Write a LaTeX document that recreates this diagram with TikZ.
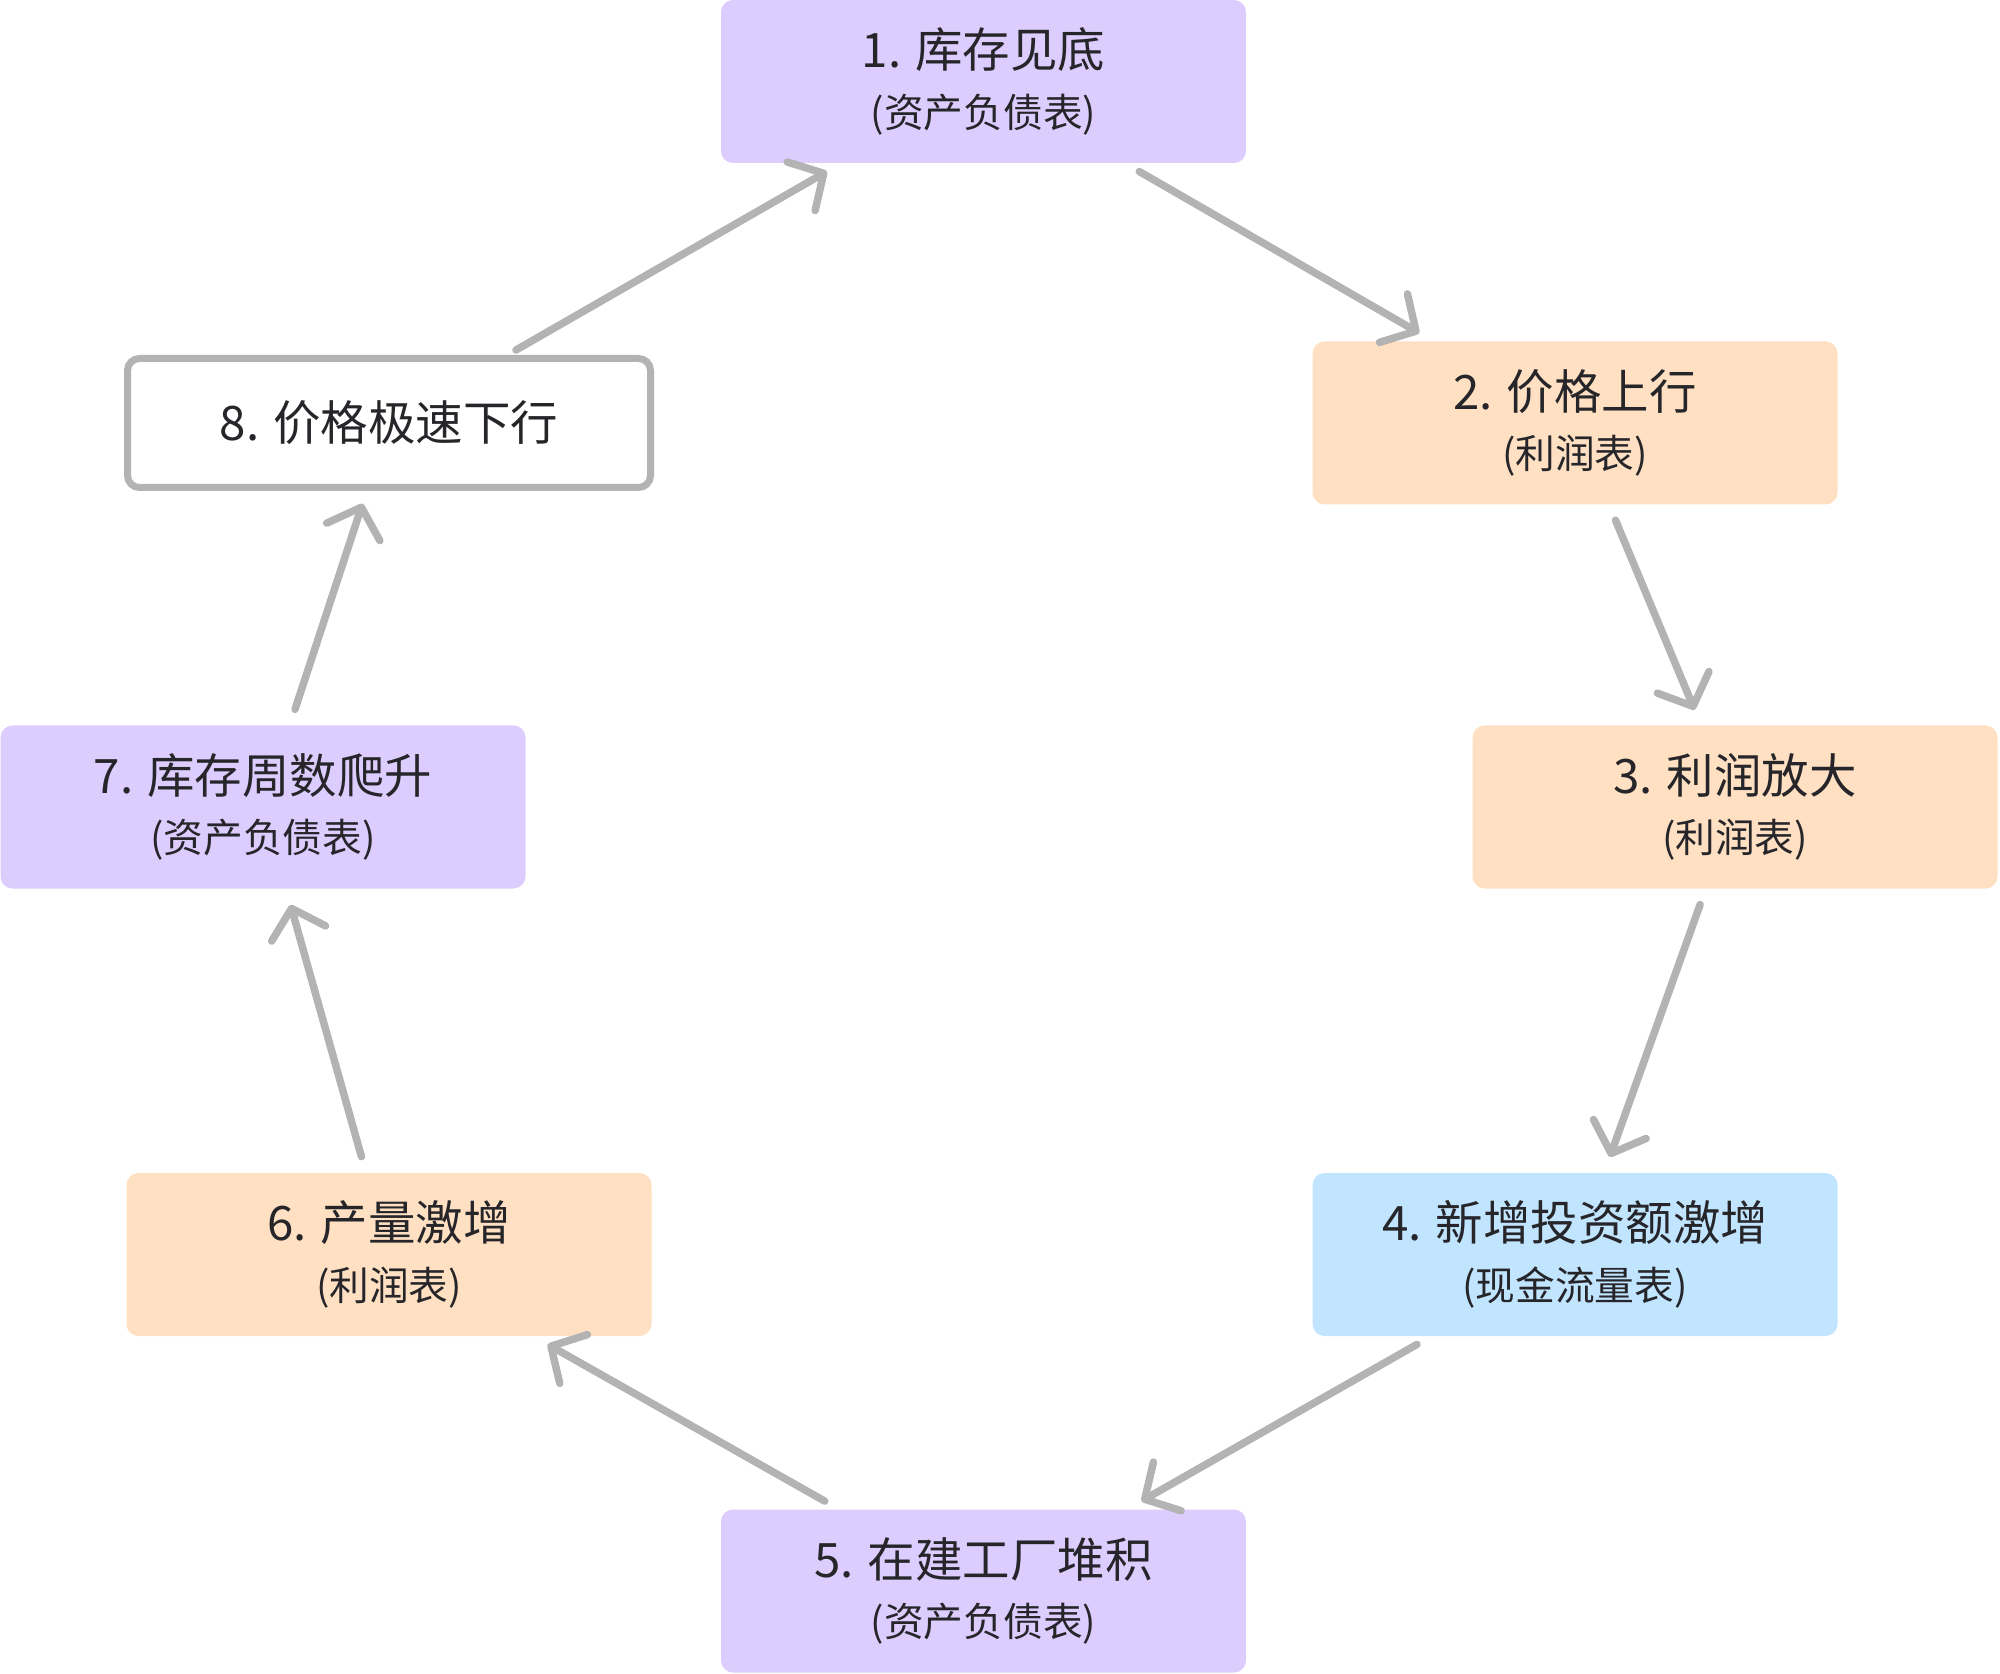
\documentclass[tikz,border=0pt]{standalone}
\usepackage{fontspec}
\setmainfont{Noto Sans CJK SC}
\usetikzlibrary{arrows.meta}
\definecolor{boxpurple}{HTML}{DDCDFF}
\definecolor{boxorange}{HTML}{FFE0C2}
\definecolor{boxblue}{HTML}{C2E5FF}
\definecolor{arrowgray}{HTML}{B3B3B3}
\definecolor{textdark}{HTML}{26262A}
\newcommand{\sheetname}[1]{{\fontsize{11.3}{14}\selectfont #1}}

\begin{document}
\begin{tikzpicture}[
  stage/.style={rounded corners=0.12cm, minimum width=5.25cm, minimum height=1.63cm,
    align=center, text=textdark, inner sep=0pt, outer sep=0pt,
    font=\fontsize{13.5}{18}\selectfont},
  purplebox/.style={stage, fill=boxpurple},
  orangebox/.style={stage, fill=boxorange},
  bluebox/.style={stage, fill=boxblue},
  outlinebox/.style={stage, fill=white, draw=arrowgray, line width=0.07cm,
    minimum width=5.23cm, minimum height=1.29cm},
  flow/.style={draw=arrowgray, line width=0.075cm, line cap=round,
    shorten <=0.17cm, shorten >=0.17cm,
    -{Straight Barb[length=0.26cm, width=0.56cm, round]}},
]
\useasboundingbox (0,0) rectangle (20,16.73);

\node[purplebox] (s1) at (9.835, 15.915) {1. 库存见底\\[-1pt]\sheetname{(资产负债表)}};
\node[orangebox] (s2) at (15.75, 12.50) {2. 价格上行\\[-1pt]\sheetname{(利润表)}};
\node[orangebox] (s3) at (17.35, 8.66) {3. 利润放大\\[-1pt]\sheetname{(利润表)}};
\node[bluebox] (s4) at (15.75, 4.185) {4. 新增投资额激增\\[-1pt]\sheetname{(现金流量表)}};
\node[purplebox] (s5) at (9.835, 0.82) {5. 在建工厂堆积\\[-1pt]\sheetname{(资产负债表)}};
\node[orangebox] (s6) at (3.89, 4.185) {6. 产量激增\\[-1pt]\sheetname{(利润表)}};
\node[purplebox] (s7) at (2.63, 8.66) {7. 库存周数爬升\\[-1pt]\sheetname{(资产负债表)}};
\node[outlinebox] (s8) at (3.89, 12.50) {8. 价格极速下行};

\draw[flow] (s1) -- (s2);
\draw[flow] (s2) -- (s3);
\draw[flow] (s3) -- (s4);
\draw[flow] (s4) -- (s5);
\draw[flow] (s5) -- (s6);
\draw[flow] (s6) -- (s7);
\draw[flow] (s7) -- (s8);
\draw[flow] (s8) -- (s1);

\end{tikzpicture}
\end{document}
